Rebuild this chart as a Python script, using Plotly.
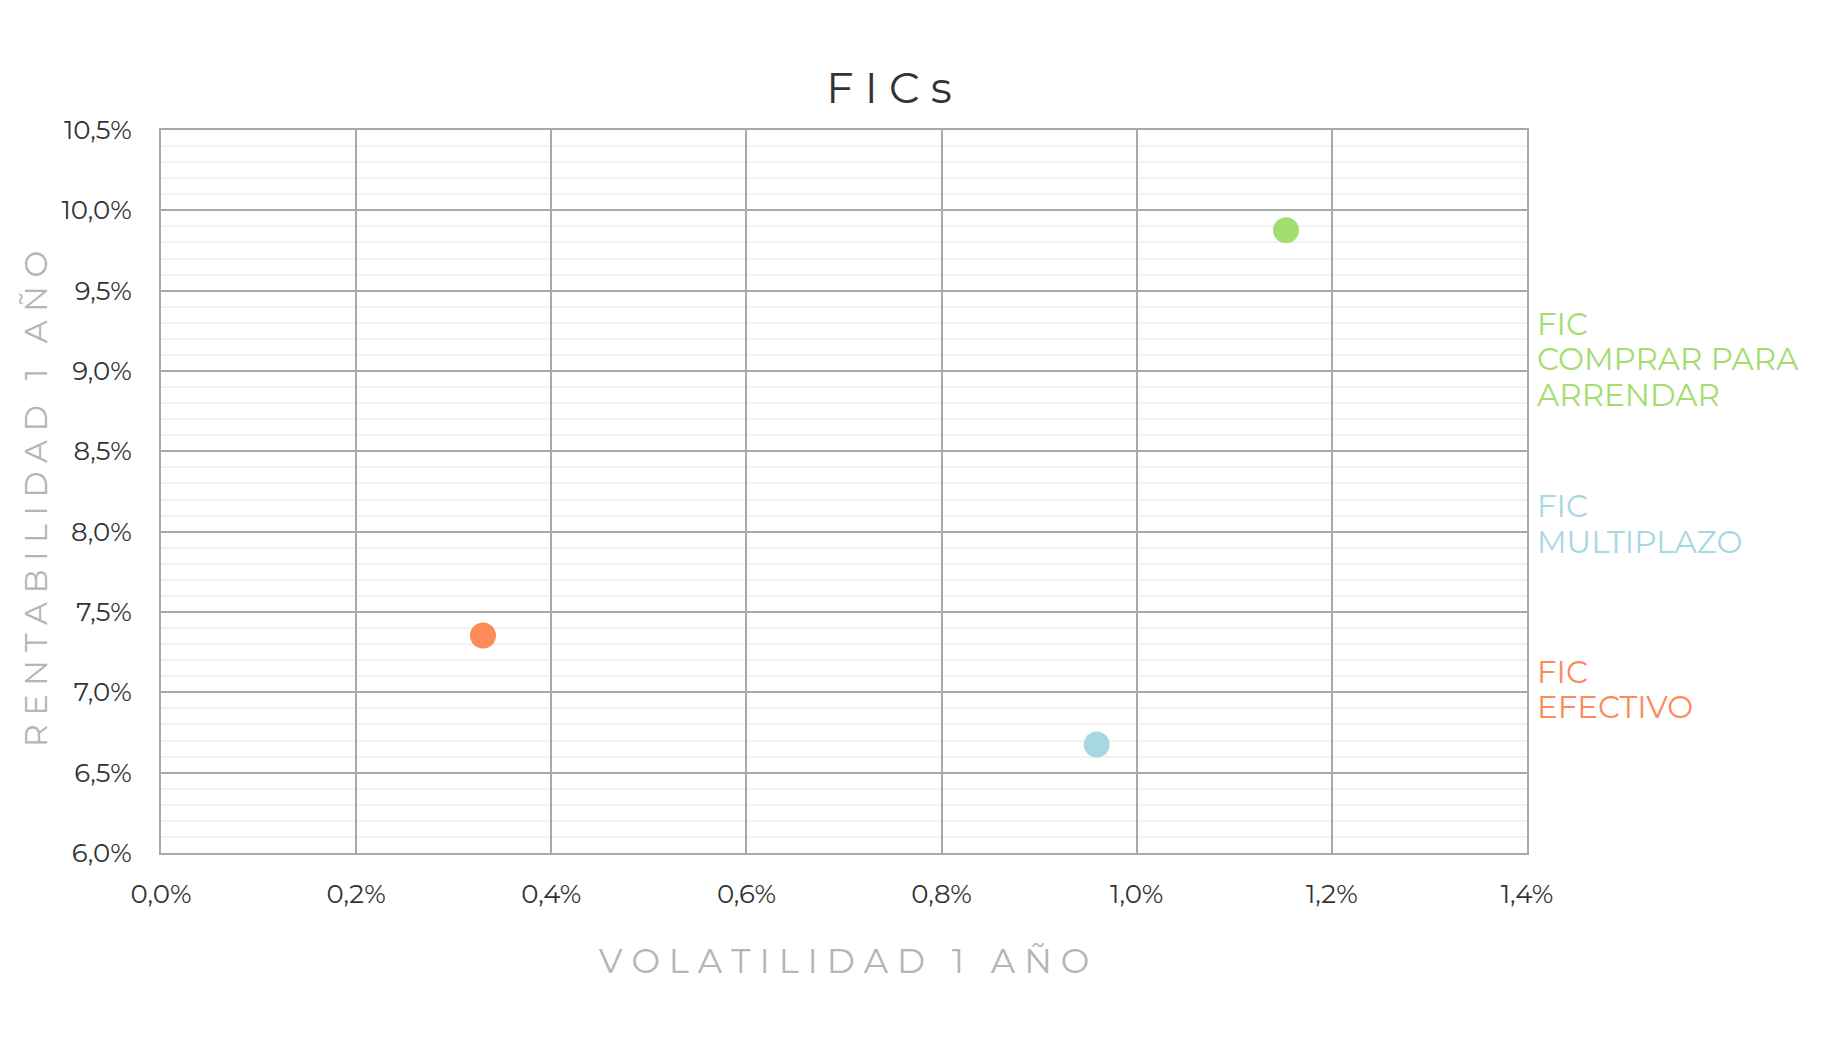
import plotly.graph_objects as go

# Data (fractions, shown as %)
funds = ["FIC EFECTIVO", "FIC MULTIPLAZO", "FIC COMPRAR PARA ARRENDAR"]
volatility = [0.00330, 0.00959, 0.01153]
returns = [0.07354, 0.06675, 0.09876]
colors = ["#fd8b57", "#a6d8e2", "#a3dd6f"]
label_lines = [["FIC", "EFECTIVO"], ["FIC", "MULTIPLAZO"], ["FIC", "COMPRAR PARA", "ARRENDAR"]]
label_top = [0.07126, 0.08157, 0.09291]   # y of first line of each label
line_step = 0.00219

FONT = "Montserrat, Open Sans, sans-serif"
GRID = "#a7aaad"

fig = go.Figure()

for name, xv, yv, c in zip(funds, volatility, returns, colors):
    fig.add_trace(go.Scatter(x=[xv], y=[yv], mode="markers", name=name,
                             marker=dict(size=26, color=c), showlegend=False))

# labels to the right of the plot, one annotation per line
for lines, top, c in zip(label_lines, label_top, colors):
    for i, txt in enumerate(lines):
        fig.add_annotation(x=1.006, y=top - i * line_step, xref="paper", yref="y", text=txt,
                           showarrow=False, xanchor="left", yanchor="middle", align="left",
                           font=dict(family=FONT, size=31, color=c))

# y axis title (sits a bit below the plot centre in the original)
fig.add_annotation(x=-0.092, y=0.4896, xref="paper", yref="paper",
                   text="R E N T A B I L I D A D   1   A Ñ O", textangle=-90,
                   showarrow=False, xanchor="center", yanchor="middle",
                   font=dict(family=FONT, size=32, color="#b5b5b5"))

fig.update_layout(
    width=1840, height=1056,
    plot_bgcolor="white", paper_bgcolor="white",
    separators=",.",
    margin=dict(l=153, r=321, t=122, b=211),
    title=dict(text="F I C s", x=881 / 1840, xanchor="center", y=1 - 80 / 1056, yanchor="middle",
               font=dict(family=FONT, size=43, color="#333333")),
    font=dict(family=FONT, color="#333333"),
)

fig.update_xaxes(
    range=[0, 0.014], dtick=0.002, tickformat=".1%",
    showgrid=True, gridcolor=GRID, gridwidth=2,
    showline=True, linecolor=GRID, linewidth=2, mirror=True,
    zeroline=False, ticks="", ticklabelstandoff=17,
    tickfont=dict(family=FONT, size=26, color="#333333"),
    title=dict(text="V O L A T I L I D A D   1   A Ñ O", standoff=40,
               font=dict(family=FONT, size=34, color="#b5b5b5")),
)
fig.update_yaxes(
    range=[0.06, 0.105], dtick=0.005, tickformat=".1%",
    showgrid=True, gridcolor=GRID, gridwidth=2,
    showline=True, linecolor=GRID, linewidth=2, mirror=True,
    zeroline=False, ticks="", ticklabelstandoff=22,
    minor=dict(dtick=0.001, showgrid=True, gridcolor="#f2f2f3", gridwidth=1.5),
    tickfont=dict(family=FONT, size=26, color="#333333"),
)

fig.write_html("out.html")
